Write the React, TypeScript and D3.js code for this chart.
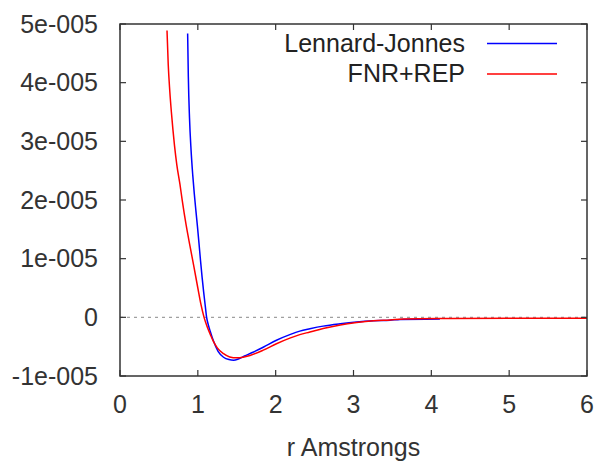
import React from "react";
import * as d3 from "d3";

const xTicks = [0, 1, 2, 3, 4, 5, 6];
const yTicks = [-1e-5, 0, 1e-5, 2e-5, 3e-5, 4e-5, 5e-5];
const yTickLabels = ["-1e-005", "0", "1e-005", "2e-005", "3e-005", "4e-005", "5e-005"];
const seriesNames = ["Lennard-Jonnes", "FNR+REP"];
const seriesColors = ["#0000ff", "#ff0000"];

// Lennard-Jonnes (r in Angstroms, V in units of 1e-5)
const ljR = [0.869, 0.878, 0.893, 0.913, 0.935, 0.955, 0.975, 0.995, 1.015, 1.035, 1.055, 1.075, 1.095, 1.113, 1.135, 1.16, 1.20, 1.26, 1.33, 1.40, 1.46, 1.52, 1.60, 1.70, 1.84, 2.01, 2.19, 2.31, 2.44, 2.61, 2.83, 3.04, 3.26, 3.47, 3.60, 4.11];
const ljV = [4.84, 4.10, 3.40, 2.85, 2.42, 2.10, 1.82, 1.55, 1.26, 0.96, 0.68, 0.43, 0.20, 0.0, -0.13, -0.24, -0.40, -0.58, -0.68, -0.72, -0.73, -0.71, -0.66, -0.60, -0.51, -0.39, -0.29, -0.235, -0.195, -0.15, -0.11, -0.08, -0.06, -0.05, -0.035, -0.03];

// FNR+REP
const fnrR = [0.604, 0.62, 0.64, 0.66, 0.68, 0.70, 0.73, 0.77, 0.80, 0.85, 0.90, 0.95, 1.00, 1.04, 1.08, 1.12, 1.16, 1.20, 1.25, 1.33, 1.41, 1.50, 1.58, 1.67, 1.84, 2.01, 2.19, 2.31, 2.44, 2.61, 2.83, 3.04, 3.26, 3.47, 3.64, 4.24, 5.0, 6.0];
const fnrV = [4.89, 4.30, 3.85, 3.50, 3.20, 2.93, 2.60, 2.27, 1.99, 1.57, 1.21, 0.86, 0.50, 0.22, 0.0, -0.16, -0.29, -0.41, -0.52, -0.62, -0.675, -0.69, -0.68, -0.65, -0.56, -0.45, -0.35, -0.295, -0.25, -0.19, -0.13, -0.09, -0.06, -0.045, -0.03, -0.02, -0.015, -0.015];

const W = 594;
const H = 462;
const left = 120;
const right = 587;
const top = 24;
const bottom = 376;
const font = "'Liberation Sans', Arial, sans-serif";
const fs = 25;

export default function App() {
  const x = d3.scaleLinear().domain([0, 6]).range([left, right]);
  const y = d3.scaleLinear().domain([-1e-5, 5e-5]).range([bottom, top]);

  const mk = (rs: number[], vs: number[]) =>
    d3
      .line<number>()
      .x((_, i) => x(rs[i]))
      .y((_, i) => y(vs[i] * 1e-5))
      .curve(d3.curveMonotoneX)(rs.map((_, i) => i)) || "";

  const paths = [mk(ljR, ljV), mk(fnrR, fnrV)];
  const axisColor = "#333";

  return (
    <svg
      width={W}
      height={H}
      style={{ position: "absolute", left: 0, top: 0, background: "#fff" }}
      fontFamily={font}
    >
      <rect x={0} y={0} width={W} height={H} fill="#fff" />
      <line
        x1={left}
        x2={right}
        y1={y(0)}
        y2={y(0)}
        stroke="#a0a0a0"
        strokeWidth={1.2}
        strokeDasharray="3,4"
      />
      <defs>
        <clipPath id="plot">
          <rect x={left} y={top} width={right - left} height={bottom - top} />
        </clipPath>
      </defs>
      <g clipPath="url(#plot)">
        {paths.map((d, i) => (
          <path key={i} d={d} fill="none" stroke={seriesColors[i]} strokeWidth={1.5} />
        ))}
      </g>
      <rect
        x={left}
        y={top}
        width={right - left}
        height={bottom - top}
        fill="none"
        stroke={axisColor}
        strokeWidth={1.5}
      />
      {xTicks.map((t) => (
        <g key={"x" + t}>
          <line x1={x(t)} x2={x(t)} y1={bottom} y2={bottom - 6} stroke={axisColor} strokeWidth={1.2} />
          <line x1={x(t)} x2={x(t)} y1={top} y2={top + 6} stroke={axisColor} strokeWidth={1.2} />
          <text x={x(t)} y={413} textAnchor="middle" fontSize={fs} fill="#333">
            {t}
          </text>
        </g>
      ))}
      {yTicks.map((t, i) => (
        <g key={"y" + i}>
          <line x1={left} x2={left + 6} y1={y(t)} y2={y(t)} stroke={axisColor} strokeWidth={1.2} />
          <line x1={right} x2={right - 6} y1={y(t)} y2={y(t)} stroke={axisColor} strokeWidth={1.2} />
          <text x={98} y={y(t)} dy="0.35em" textAnchor="end" fontSize={fs} fill="#333">
            {yTickLabels[i]}
          </text>
        </g>
      ))}
      <text x={(left + right) / 2} y={456} textAnchor="middle" fontSize={fs} fill="#333">
        r Amstrongs
      </text>
      {seriesNames.map((n, i) => (
        <g key={n}>
          <text x={465} y={52 + i * 30} textAnchor="end" fontSize={fs} fill="#222">
            {n}
          </text>
          <line
            x1={487}
            x2={557}
            y1={43.5 + i * 30.5}
            y2={43.5 + i * 30.5}
            stroke={seriesColors[i]}
            strokeWidth={1.5}
          />
        </g>
      ))}
    </svg>
  );
}
